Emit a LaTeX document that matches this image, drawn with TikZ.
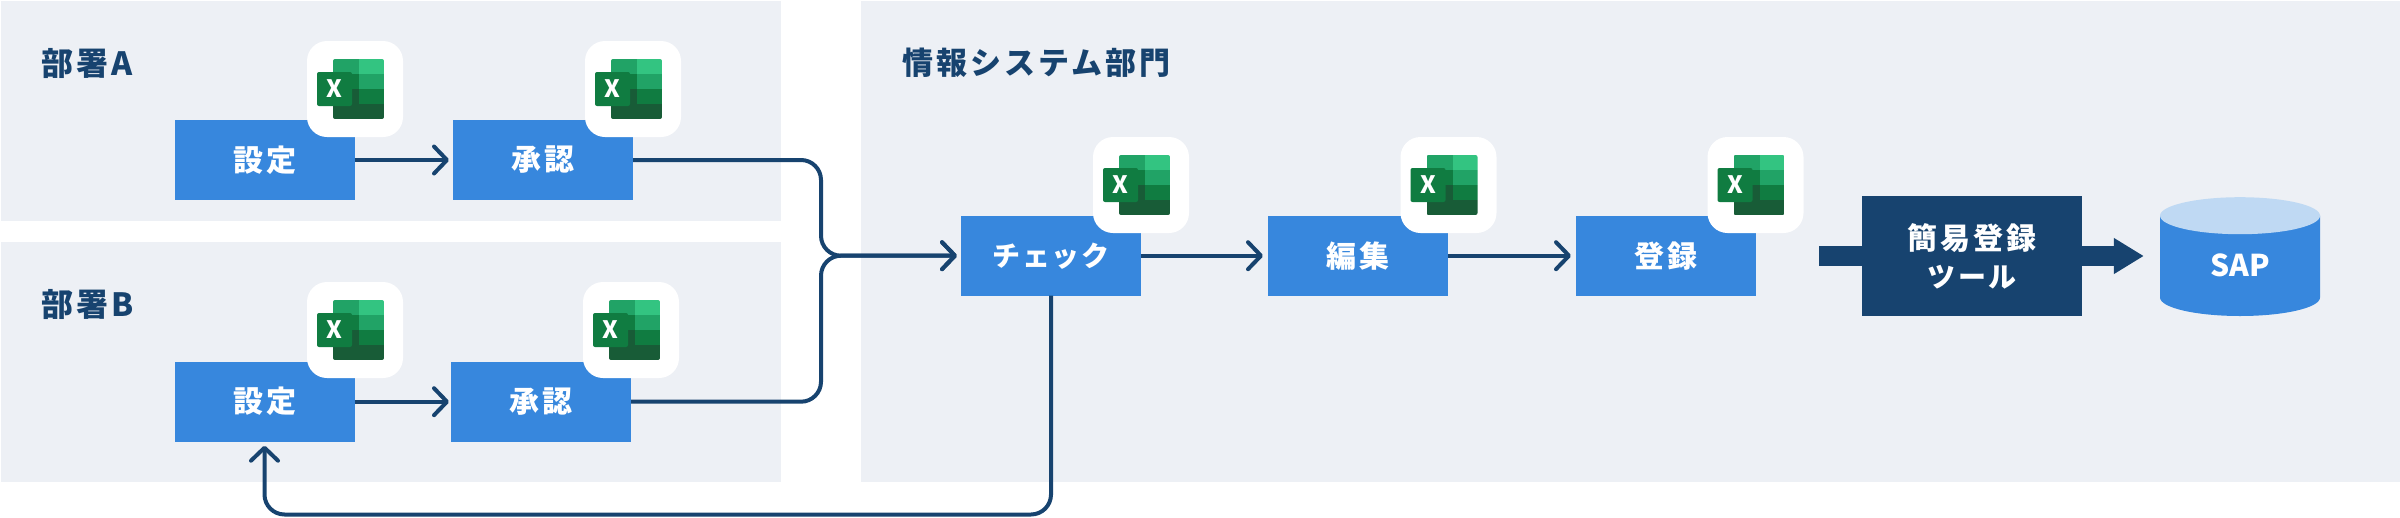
\documentclass[tikz,border=0pt]{standalone}
\usepackage{fontspec}
\setmainfont{Noto Sans CJK JP}
\newfontfamily\jpf[LetterSpace=10]{Noto Sans CJK JP}
\newfontfamily\jpk[LetterSpace=6]{Noto Sans CJK JP}
\usetikzlibrary{arrows.meta}
\definecolor{panelc}{HTML}{EDF0F5}
\definecolor{bluec}{HTML}{3787DD}
\definecolor{navyc}{HTML}{17436F}
\definecolor{lidc}{HTML}{BFD9F3}
\definecolor{xa}{HTML}{21A366}
\definecolor{xb}{HTML}{33C481}
\definecolor{xc}{HTML}{107C41}
\definecolor{xd}{HTML}{185C37}
\tikzset{
  panel/.style={fill=panelc,inner sep=0pt,outer sep=0pt,anchor=north west},
  title/.style={anchor=west,inner sep=0pt,text=navyc,font=\jpf\bfseries\fontsize{31pt}{36pt}\selectfont},
  stepbox/.style={fill=bluec,text=white,minimum width=180pt,minimum height=80pt,inner sep=0pt,outer sep=0pt,font=\jpf\bfseries\fontsize{30pt}{38pt}\selectfont},
  toolbox/.style={fill=navyc,text=white,minimum width=220pt,minimum height=120pt,inner sep=0pt,outer sep=0pt,align=center,font=\jpf\bfseries\fontsize{30pt}{37pt}\selectfont},
  badge/.style={fill=white,rounded corners=20pt,minimum width=96pt,minimum height=96pt,inner sep=0pt,outer sep=0pt,anchor=north west},
  xmark/.style={text=white,inner sep=0pt,font=\bfseries\fontsize{24pt}{24pt}\selectfont},
  conn/.style={draw=navyc,line width=4pt,-{Straight Barb[round,length=13pt,width=27pt,line width=4pt]},shorten >=4pt},
  fat/.style={draw=navyc,line width=20pt},
  sapn/.style={text=white,inner sep=0pt,minimum width=160pt,font=\bfseries\fontsize{30pt}{32pt}\selectfont}
}
\newcommand{\xlicon}[3]{%
  \node[badge] (#1) at (#2,#3) {};
  \begin{scope}[shift={(#2,#3)}]
    \begin{scope}
      \clip[rounded corners=2pt] (26,18) rectangle (77,78);
      \fill[xa] (26,18) rectangle (52,33);
      \fill[xb] (52,18) rectangle (77,33);
      \fill[xc] (26,33) rectangle (52,48);
      \fill[xa] (52,33) rectangle (77,48);
      \fill[xd] (26,48) rectangle (52,63);
      \fill[xc] (52,48) rectangle (77,63);
      \fill[xd] (26,63) rectangle (77,78);
    \end{scope}
    \fill[xc,rounded corners=2pt] (10,31) rectangle (45,65);
    \node[xmark] (#1x) at (27.5,48) {X};
  \end{scope}}
\begin{document}
\begin{tikzpicture}[x=1pt,y=-1pt]
\useasboundingbox (0,0) rectangle (2400,517);
% panels
\node[panel,minimum width=780pt,minimum height=220pt] (pa) at (1,1) {};
\node[panel,minimum width=780pt,minimum height=240pt] (pb) at (1,242) {};
\node[panel,minimum width=1539pt,minimum height=481pt] (pc) at (861,1) {};
\node[title,font=\jpf\bfseries\fontsize{32pt}{36pt}\selectfont] (ta) at (41,63) {部署A};
\node[title,font=\jpf\bfseries\fontsize{32pt}{36pt}\selectfont] (tb) at (41,304.5) {部署B};
\node[title] (tc) at (902,63) {情報システム部門};
% boxes
\node[stepbox] (sa) at (264.5,160) {設定};
\node[stepbox] (aa) at (543,160) {承認};
\node[stepbox] (sb) at (264.5,401.7) {設定};
\node[stepbox] (ab) at (541,401.7) {承認};
\node[stepbox,font=\jpk\bfseries\fontsize{28pt}{38pt}\selectfont] (chk) at (1051,255.7) {チェック};
\node[stepbox] (edt) at (1358,255.7) {編集};
\node[stepbox] (reg) at (1666,255.7) {登録};
\node[toolbox] (tool) at (1972,256) {\raisebox{-2pt}{簡易登録}\\\raisebox{-3pt}{\fontsize{28pt}{37pt}\selectfont ツール}};
% cylinder
\fill[bluec] (2160,215.7) -- (2320,215.7) -- (2320,297.5) arc[start angle=0,end angle=-180,x radius=80pt,y radius=18.5pt] -- cycle;
\fill[lidc] (2240,215.7) ellipse[x radius=80pt,y radius=18.5pt];
\node[sapn] (cyl) at (2240,265) {SAP};
% connectors
\draw[conn] (sa.east) -- (aa.west);
\draw[conn,shorten >=2pt] (sb.east) -- (ab.west);
\coordinate (join) at (821,255.7);
\draw[conn,rounded corners=20pt] (aa.east) -| (join) -- (chk.west);
\draw[conn,rounded corners=20pt] (ab.east) -| (join) -- (chk.west);
\draw[conn,shorten >=5pt] (chk.east) -- (edt.west);
\draw[conn,shorten >=5pt] (edt.east) -- (reg.west);
\coordinate (fbr) at (1051,514.5);
\coordinate (fbl) at (264.5,514.5);
\draw[conn,rounded corners=20pt] (chk.south) -- (fbr) -- (fbl) -- (sb.south);
\coordinate (feed) at (1819,256);
\draw[fat] (feed) -- (tool.west);
\draw[fat,-{Triangle[length=30pt,width=34pt]},shorten >=16pt] (tool.east) -- (tool.east -| cyl.west);
% excel icons
\xlicon{xa1}{307}{41}
\xlicon{xa2}{585}{41}
\xlicon{xb1}{307}{282}
\xlicon{xb2}{583}{282}
\xlicon{xc1}{1093}{137}
\xlicon{xc2}{1400.5}{137}
\xlicon{xc3}{1707.5}{137}
\end{tikzpicture}
\end{document}
